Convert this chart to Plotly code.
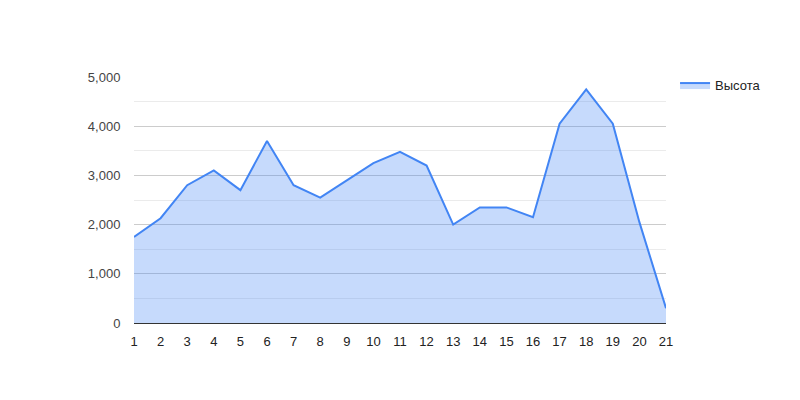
import plotly.graph_objects as go

x_vals = list(range(1, 22))
heights = [1750, 2130, 2800, 3100, 2700, 3700, 2800, 2550, 2900, 3250, 3480,
           3200, 2000, 2350, 2350, 2150, 4050, 4750, 4050, 2050, 300]
series_name = "Высота"
y_ticks = [0, 1000, 2000, 3000, 4000, 5000]
y_tick_labels = ["0", "1,000", "2,000", "3,000", "4,000", "5,000"]

fig = go.Figure()
fig.add_trace(go.Scatter(
    x=x_vals, y=heights, name=series_name, mode="lines",
    line=dict(color="#4285f4", width=2),
    fill="tozeroy", fillcolor="rgba(66,133,244,0.3)",
))

fig.update_layout(
    width=800, height=400,
    margin=dict(l=126, r=142, t=69, b=85),
    paper_bgcolor="white", plot_bgcolor="white",
    font=dict(family="Liberation Sans, Arial, sans-serif", size=13, color="#444444"),
    showlegend=True,
    legend=dict(x=1.017, y=1.028, xanchor="left", yanchor="top",
                font=dict(size=13, color="#222222"), bgcolor="rgba(0,0,0,0)"),
    xaxis=dict(range=[1, 21], tickmode="array", tickvals=x_vals,
               showgrid=False, zeroline=False, showline=False,
               ticks="outside", ticklen=6, tickcolor="rgba(0,0,0,0)",
               tickfont=dict(size=13, color="#222222")),
    yaxis=dict(range=[0, 5000], tickmode="array", tickvals=y_ticks,
               ticktext=y_tick_labels, showgrid=True, gridcolor="#cccccc",
               zeroline=True, zerolinecolor="#333333", zerolinewidth=1,
               showline=False, ticks="outside", ticklen=10,
               tickcolor="rgba(0,0,0,0)",
               tickfont=dict(size=13, color="#444444"),
               minor=dict(dtick=500, showgrid=True, gridcolor="#ebebeb")),
)

fig.write_html("out.html")
